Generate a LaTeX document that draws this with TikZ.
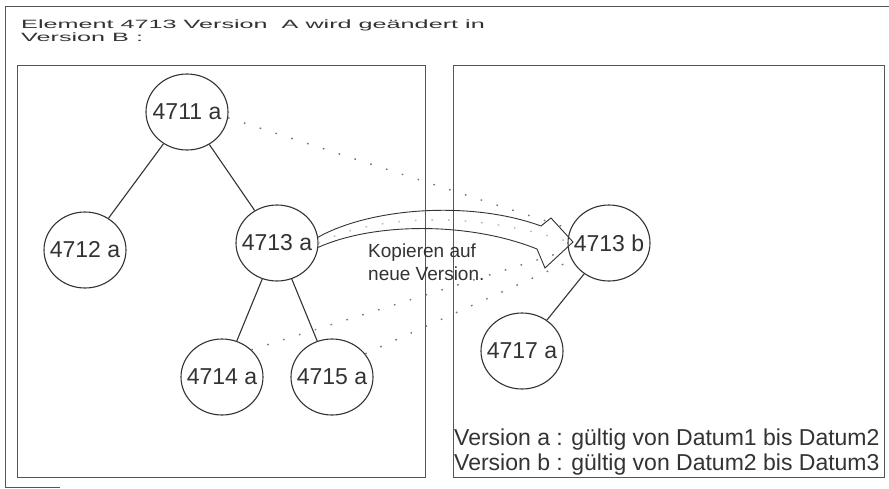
\documentclass[tikz,border=0pt]{standalone}
\usepackage{fontspec}
\usepackage{graphicx}
\setmainfont{Liberation Sans}
\usetikzlibrary{shapes.geometric}

\definecolor{ink}{HTML}{333333}
\definecolor{framegray}{HTML}{555555}
\definecolor{dotgray}{HTML}{777777}
\newcommand{\widetext}[1]{\scalebox{2.1}[1]{#1}}

\tikzset{
  knot/.style={ellipse,draw=ink,line width=1.1pt,minimum width=82pt,minimum height=76pt,
    inner sep=0pt,text=ink,font=\fontsize{23}{27}\selectfont},
  edge/.style={draw=ink,line width=1.1pt},
  dotline/.style={draw=dotgray,line width=1.4pt,dash pattern=on 1.6pt off 15pt},
  panel/.style={draw=framegray,line width=1pt},
  caption/.style={anchor=base west,inner sep=0pt,text=ink},
}

\begin{document}
\begin{tikzpicture}[x=1pt,y=-1pt]
  \useasboundingbox (0,0) rectangle (889,488);
  \fill[white] (0,0) rectangle (889,488);
  % frames
  \draw[panel] (889,6) -| (5,487) -- (60,487);
  \draw[panel] (17,65) rectangle (425,477);
  \draw[panel] (453,65) rectangle (884,477);
  \node[caption,font=\fontsize{12}{12}\selectfont] (title1) at (21,28) {\widetext{Element 4713 Version~ A wird geändert in}};
  \node[caption,font=\fontsize{12}{12}\selectfont] (title2) at (21,41) {\widetext{Version B :}};

  % version a
  \node[knot] (n4711) at (187,112) {\makebox[0pt]{4711 a}};
  \node[knot] (n4712) at (85,250) {\makebox[0pt]{4712 a}};
  \node[knot] (n4713a) at (277,243) {\makebox[0pt]{4713 a}};
  \node[knot] (n4714) at (222,377) {\makebox[0pt]{4714 a}};
  \node[knot] (n4715) at (332,377) {\makebox[0pt]{4715 a}};
  \draw[edge] (n4711) -- (n4712);
  \draw[edge] (n4711) -- (n4713a);
  \draw[edge] (n4713a) -- (n4714);
  \draw[edge] (n4713a) -- (n4715);

  % version b
  \node[knot] (n4713b) at (609,243) {\makebox[0pt]{4713 b}};
  \node[knot] (n4717) at (522,351) {\makebox[0pt]{4717 a}};
  \draw[edge] (n4713b) -- (n4717);

  % references kept
  \draw[dotline] (n4711.-8) -- (n4713b.160);
  \draw[dotline] (n4714.north east) -- (n4713b.190);
  \draw[dotline] (n4715.35) -- (n4713b.205);
  \draw[dotline,draw=dotgray!50] (n4713a.east) .. controls (375,215) and (470,210) .. (n4713b.178);

  % copy arrow
  \draw[ink,line width=0.9pt] (n4713a.8) .. controls (370,208) and (470,200) .. (541,226)
    -- (551,218) -- (573,242) -- (545,268) -- (537,249)
    .. controls (470,222) and (375,222) .. (n4713a.-6);
  \node[caption,font=\fontsize{19}{23}\selectfont] (copy1) at (368,257) {Kopieren auf};
  \node[caption,font=\fontsize{19}{23}\selectfont] (copy2) at (368,280) {neue Version.};

  \node[caption,font=\fontsize{23}{27}\selectfont] (valid1) at (454,445) {Version a : gültig von Datum1 bis Datum2};
  \node[caption,font=\fontsize{23}{27}\selectfont] (valid2) at (454,470) {Version b : gültig von Datum2 bis Datum3};
\end{tikzpicture}
\end{document}
